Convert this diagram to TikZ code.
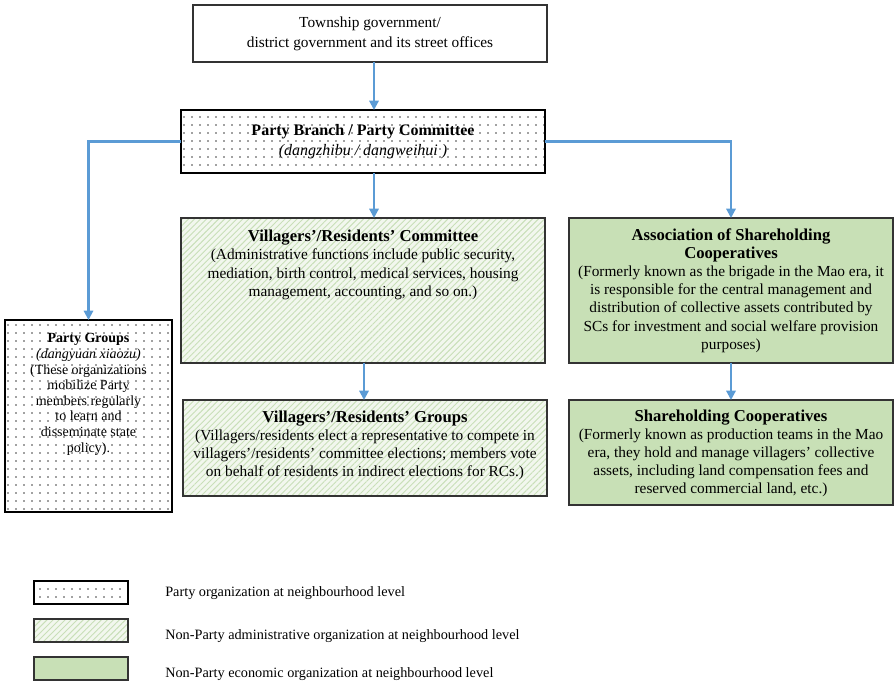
\documentclass[tikz,border=0pt]{standalone}
\usepackage{fontspec}
\setmainfont{Liberation Serif}
\usetikzlibrary{patterns.meta,arrows.meta,fit}
\definecolor{arrowblue}{HTML}{5B9BD5}
\definecolor{ecogreen}{HTML}{C8E0B6}
\definecolor{hatchbg}{HTML}{F2F7EE}
\definecolor{hatchline}{HTML}{C9DFB8}
\definecolor{boxline}{HTML}{333333}
\definecolor{dotcol}{HTML}{444444}
\begin{document}
\begin{tikzpicture}[x=0.75pt,y=-0.75pt,
  frame/.style={inner sep=0pt, outer sep=0pt},
  plainbox/.style={frame, draw=boxline, line width=1.2pt, fill=white},
  partybox/.style={frame, draw=black, line width=1.6pt,
    preaction={fill=white},
    pattern={Dots[distance=6pt, radius=0.6pt]}, pattern color=dotcol},
  adminbox/.style={frame, draw=boxline, line width=1.4pt,
    preaction={fill=hatchbg},
    pattern={Lines[angle=45, distance=3.2pt, line width=0.7pt]}, pattern color=hatchline},
  ecobox/.style={frame, draw=boxline, line width=1.4pt, fill=ecogreen},
  body/.style={align=center, inner sep=0pt, font=\fontsize{11.5}{13.6}\selectfont},
  small/.style={align=center, inner sep=0pt, font=\fontsize{10.5}{11.7}\selectfont},
  legtext/.style={anchor=west, inner sep=0pt, font=\fontsize{10.7}{12}\selectfont},
  arr/.style={draw=arrowblue, line width=1.6pt, -{Triangle[width=7pt,length=7pt]}}
]
\useasboundingbox (0,0) rectangle (895,685);

% boxes
\node[plainbox, fit={(193,5) (547,62)}] (top) {};
\node[partybox, fit={(181,110) (545,173)}] (pb) {};
\node[adminbox, fit={(181,218) (545,363)}] (vc) {};
\node[adminbox, fit={(183,400) (547,496)}] (vg) {};
\node[ecobox, fit={(569,218) (893,363)}] (ass) {};
\node[ecobox, fit={(569,400) (893,505)}] (sc) {};
\node[partybox, fit={(5,320) (172,512)}] (pg) {};

% texts
\node[body, font=\fontsize{11.5}{15}\selectfont] (topt) at (top.center)
  {Township government/\\district government and its street offices};
\node[body, font=\fontsize{12}{15.5}\selectfont] (pbt) at (pb.center)
  {\textbf{Party Branch / Party Committee}\\\textit{(dangzhibu / dangweihui )}};
\node[body, anchor=north] (vct) at ([yshift=-9pt]vc.north)
  {\textbf{\fontsize{12.5}{13.6}\selectfont Villagers’/Residents’ Committee}\\
   (Administrative functions include public security,\\
   mediation, birth control, medical services, housing\\
   management, accounting, and so on.)};
\node[body, anchor=north] (vgt) at ([yshift=-8pt]vg.north)
  {\textbf{\fontsize{12.5}{13.6}\selectfont Villagers’/Residents’ Groups}\\
   (Villagers/residents elect a representative to compete in\\
   villagers’/residents’ committee elections; members vote\\
   on behalf of residents in indirect elections for RCs.)};
\node[body] (asst) at (ass.center)
  {\textbf{\fontsize{12.5}{13.6}\selectfont Association of Shareholding}\\
   \textbf{\fontsize{12.5}{13.6}\selectfont Cooperatives}\\
   (Formerly known as the brigade in the Mao era, it\\
   is responsible for the central management and\\
   distribution of collective assets contributed by\\
   SCs for investment and social welfare provision\\
   purposes)};
\node[body, anchor=north] (sct) at ([yshift=-7pt]sc.north)
  {\textbf{\fontsize{12.5}{13.6}\selectfont Shareholding Cooperatives}\\
   (Formerly known as production teams in the Mao\\
   era, they hold and manage villagers’ collective\\
   assets, including land compensation fees and\\
   reserved commercial land, etc.)};
\node[small, anchor=north] (pgt) at ([yshift=-10pt]pg.north)
  {\textbf{Party Groups}\\\textit{(dangyuan xiaozu)}\\(These organizations\\mobilize Party\\members regularly\\to learn and\\disseminate state\\policy).};

% connectors
\coordinate (xa) at (374,0);
\coordinate (xb) at (364,0);
\draw[arr] (top.south -| xa) -- (pb.north -| xa);
\draw[arr] (pb.south -| xa) -- (vc.north -| xa);
\draw[arr] (pb.west) -| (pg.north);
\draw[arr] (pb.east) -| (ass.north);
\draw[arr] (vc.south -| xb) -- (vg.north -| xb);
\draw[arr] (ass.south) -- (sc.north);

% legend
\node[partybox, fit={(34,581) (128,604)}] (l1) {};
\node[adminbox, fit={(34,619) (128,642)}] (l2) {};
\node[ecobox, fit={(34,657) (128,680)}] (l3) {};
\node[legtext] (l1t) at (165,593) {Party organization at neighbourhood level};
\node[legtext] (l2t) at (165,636) {Non-Party administrative organization at neighbourhood level};
\node[legtext] (l3t) at (165,674) {Non-Party economic organization at neighbourhood level};
\end{tikzpicture}
\end{document}
